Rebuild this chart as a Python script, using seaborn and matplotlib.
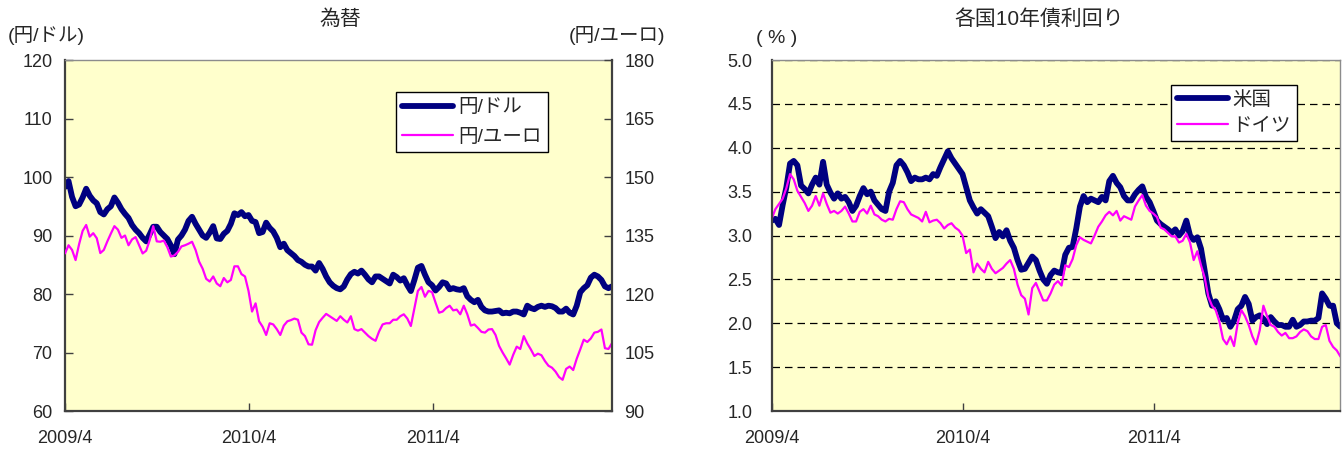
import matplotlib
matplotlib.use("Agg")
import matplotlib.pyplot as plt
import matplotlib.ticker as mticker
import numpy as np
import pandas as pd
import seaborn as sns

# Weekly observations, April 2009 - March 2012
dates = pd.date_range("2009-04-01", periods=156, freq="7D")

# 円/ドル (left axis)
usd_jpy = [
    98.3, 99.3, 96.6, 95.0, 95.3, 96.5, 98.0, 96.8, 96.0, 95.5,
    94.0, 93.6, 94.5, 95.0, 96.5, 95.6, 94.5, 93.7, 93.0, 91.8,
    91.0, 90.4, 89.6, 89.0, 90.2, 91.5, 91.5, 90.6, 90.0, 89.4,
    88.3, 86.8, 89.3, 90.0, 91.0, 92.5, 93.2, 92.0, 91.0, 90.0,
    89.6, 90.5, 91.6, 89.5, 89.4, 90.3, 90.8, 92.0, 93.8, 93.5,
    94.0, 93.3, 93.5, 92.5, 92.3, 90.4, 90.6, 92.2, 91.3, 90.7,
    89.6, 88.0, 88.6, 87.5, 87.0, 86.5, 85.8, 85.5, 85.0, 84.7,
    84.7, 84.0, 85.3, 84.3, 83.0, 82.0, 81.4, 81.0, 80.8, 81.3,
    82.5, 83.4, 83.8, 83.5, 84.0, 83.3, 82.5, 82.0, 83.0, 83.0,
    82.6, 82.2, 81.8, 83.3, 82.9, 82.3, 82.7, 81.5, 80.5, 82.4,
    84.5, 84.8, 83.3, 82.0, 81.5, 80.6, 81.2, 82.0, 81.8, 80.8,
    81.0, 80.8, 80.7, 81.0, 79.6, 79.0, 78.6, 79.0, 77.8, 77.2,
    77.0, 77.0, 77.1, 77.2, 76.7, 76.8, 76.7, 77.0, 77.0, 76.8,
    76.5, 78.0, 77.6, 77.4, 77.8, 78.0, 77.8, 78.0, 77.9, 77.6,
    77.0, 77.0, 77.5, 76.8, 76.5, 78.0, 80.3, 81.0, 81.5, 82.8,
    83.3, 83.0, 82.4, 81.3, 81.0, 81.3,
]

# 円/ユーロ (right axis)
eur_jpy = [
    130.4, 132.5, 131.3, 128.7, 132.8, 136.2, 137.7, 134.7, 135.6, 134.3,
    130.5, 131.3, 133.5, 135.5, 137.4, 136.5, 134.4, 135.0, 132.5, 134.0,
    134.6, 132.5, 130.4, 131.1, 133.8, 137.4, 133.5, 133.4, 133.7, 132.0,
    129.6, 129.9, 130.8, 132.2, 132.5, 132.9, 133.4, 131.3, 128.3, 126.5,
    123.9, 123.2, 124.5, 122.7, 122.0, 124.1, 123.0, 123.6, 127.1, 127.1,
    125.1, 124.5, 120.8, 115.5, 117.6, 113.0, 111.6, 109.5, 112.5, 112.2,
    111.0, 109.5, 111.9, 113.0, 113.3, 113.7, 113.4, 110.1, 109.2, 107.1,
    107.0, 110.7, 112.8, 113.9, 114.9, 114.3, 113.7, 113.1, 114.3, 113.4,
    112.7, 114.3, 111.0, 110.6, 111.0, 110.1, 109.2, 108.5, 108.0, 110.4,
    112.2, 112.5, 112.5, 113.4, 113.4, 114.3, 114.8, 113.7, 111.8, 116.3,
    120.8, 121.8, 119.3, 120.8, 120.5, 117.8, 115.2, 115.5, 116.4, 117.0,
    115.8, 116.0, 114.8, 117.0, 114.8, 111.9, 112.2, 111.3, 110.3, 110.1,
    110.9, 111.0, 109.5, 106.7, 105.0, 103.5, 101.9, 104.4, 106.5, 105.9,
    109.2, 107.3, 105.8, 104.1, 104.7, 104.3, 102.8, 101.6, 101.1, 100.1,
    98.7, 98.0, 100.8, 101.4, 100.5, 103.4, 105.8, 108.3, 107.7, 108.6,
    110.1, 110.3, 110.9, 106.1, 105.9, 107.4,
]

# 米国 10年債利回り (%)
us_10y = [
    3.17, 3.19, 3.12, 3.35, 3.55, 3.82, 3.85, 3.80, 3.57, 3.53,
    3.48, 3.58, 3.66, 3.58, 3.84, 3.58, 3.49, 3.42, 3.48, 3.42,
    3.44, 3.38, 3.28, 3.34, 3.45, 3.54, 3.47, 3.50, 3.40, 3.35,
    3.30, 3.28, 3.50, 3.60, 3.80, 3.85, 3.80, 3.72, 3.62, 3.66,
    3.64, 3.64, 3.66, 3.64, 3.70, 3.68, 3.78, 3.87, 3.96, 3.88,
    3.82, 3.76, 3.70, 3.55, 3.40, 3.32, 3.25, 3.30, 3.26, 3.22,
    3.10, 2.97, 3.04, 2.99, 3.06, 2.94, 2.86, 2.72, 2.61, 2.62,
    2.69, 2.76, 2.72, 2.60, 2.50, 2.45, 2.55, 2.60, 2.58, 2.57,
    2.78, 2.86, 2.87, 3.08, 3.33, 3.45, 3.38, 3.42, 3.40, 3.38,
    3.44, 3.40, 3.62, 3.68, 3.60, 3.55, 3.45, 3.40, 3.40, 3.47,
    3.52, 3.56, 3.44, 3.38, 3.28, 3.17, 3.13, 3.10, 3.07, 3.03,
    3.07, 3.00, 3.05, 3.17, 3.00, 2.95, 2.98, 2.85, 2.60, 2.34,
    2.20, 2.25, 2.16, 2.04, 2.06, 1.96, 2.03, 2.16, 2.20, 2.30,
    2.22, 2.03, 2.07, 2.09, 2.05, 1.99, 2.07, 2.02, 1.98, 1.98,
    1.96, 1.96, 2.04, 1.96, 1.98, 2.02, 2.02, 2.03, 2.03, 2.06,
    2.34, 2.28, 2.20, 2.20, 2.00, 1.96,
]

# ドイツ 10年債利回り (%)
de_10y = [
    3.19, 3.30, 3.36, 3.42, 3.54, 3.70, 3.64, 3.51, 3.44, 3.37,
    3.28, 3.34, 3.45, 3.34, 3.48, 3.36, 3.26, 3.28, 3.25, 3.28,
    3.33, 3.25, 3.16, 3.16, 3.27, 3.30, 3.25, 3.34, 3.24, 3.22,
    3.18, 3.16, 3.19, 3.18, 3.30, 3.39, 3.38, 3.30, 3.24, 3.22,
    3.20, 3.16, 3.27, 3.15, 3.17, 3.18, 3.14, 3.08, 3.12, 3.14,
    3.09, 3.06, 3.00, 2.80, 2.84, 2.58, 2.68, 2.62, 2.58, 2.70,
    2.62, 2.57, 2.60, 2.63, 2.68, 2.72, 2.62, 2.44, 2.32, 2.28,
    2.10, 2.40, 2.46, 2.36, 2.26, 2.26, 2.34, 2.44, 2.48, 2.43,
    2.66, 2.64, 2.73, 2.89, 2.98, 2.95, 2.93, 2.91, 3.00, 3.10,
    3.16, 3.23, 3.27, 3.23, 3.28, 3.17, 3.22, 3.20, 3.18, 3.33,
    3.40, 3.46, 3.34, 3.28, 3.25, 3.21, 3.09, 3.07, 3.03, 2.99,
    2.99, 2.92, 2.94, 3.02, 2.92, 2.72, 2.82, 2.66, 2.52, 2.30,
    2.20, 2.15, 2.02, 1.82, 1.76, 1.85, 1.74, 2.00, 2.15, 2.08,
    1.98, 1.85, 1.76, 1.92, 2.20, 2.08, 1.98, 1.96, 1.90, 1.86,
    1.89, 1.83, 1.83, 1.85, 1.90, 1.93, 1.91, 1.85, 1.82, 1.82,
    1.96, 1.98, 1.80, 1.73, 1.69, 1.62,
]

tick_dates = ["2009-04-01", "2010-04-01", "2011-04-01"]
tick_labels = ["2009/4", "2010/4", "2011/4"]

sns.set_theme(style="white")
plt.rcParams["font.family"] = ["Liberation Sans", "Noto Sans CJK JP"]

NAVY = "#000080"
MAGENTA = "#FF00FF"
PANEL = "#FFFFCC"
DARK = "#404040"
GREY = "#8C8C8C"

fx = pd.DataFrame({"date": dates, "usd": usd_jpy, "eur": eur_jpy})
bonds = pd.DataFrame({"date": dates, "us": us_10y, "de": de_10y})

fig = plt.figure(figsize=(13.43, 4.55), dpi=100)
ax1 = fig.add_axes([0.0484, 0.0967, 0.4073, 0.7714])
ax3 = fig.add_axes([0.5746, 0.0967, 0.4235, 0.7714])

# ---- 為替 panel ----
ax1.set_facecolor(PANEL)
sns.lineplot(data=fx, x="date", y="usd", ax=ax1, color=NAVY, lw=4.2,
             label="円/ドル", legend=False)
ax2 = ax1.twinx()
sns.lineplot(data=fx, x="date", y="eur", ax=ax2, color=MAGENTA, lw=1.6,
             label="円/ユーロ", legend=False)

ax1.set_ylim(60, 120)
ax1.set_yticks(np.arange(60, 121, 10))
ax2.set_ylim(90, 180)
ax2.set_yticks(np.arange(90, 181, 15))

# ---- 各国10年債利回り panel ----
ax3.set_facecolor(PANEL)
ax3.set_axisbelow(True)
ax3.yaxis.grid(True, color="black", linestyle=(0, (6, 4)), lw=0.9)
sns.lineplot(data=bonds, x="date", y="us", ax=ax3, color=NAVY, lw=4.2,
             label="米国", legend=False)
sns.lineplot(data=bonds, x="date", y="de", ax=ax3, color=MAGENTA, lw=1.6,
             label="ドイツ", legend=False)
ax3.set_ylim(1.0, 5.0)
ax3.set_yticks(np.arange(1.0, 5.01, 0.5))
ax3.yaxis.set_major_formatter(mticker.FormatStrFormatter("%.1f"))

for ax in (ax1, ax2, ax3):
    ax.set_xlim(dates[0], dates[-1])
    ax.set_xlabel("")
    ax.set_ylabel("")

for ax in (ax1, ax3):
    ax.set_xticks(pd.to_datetime(tick_dates))
    ax.set_xticklabels(tick_labels)
    ax.tick_params(axis="x", direction="in", length=6, width=1, color=DARK,
                   labelsize=13, pad=14, bottom=True)
    ax.spines["left"].set_color(DARK)
    ax.spines["bottom"].set_color(DARK)
    ax.spines["left"].set_linewidth(1.6)
    ax.spines["bottom"].set_linewidth(1.6)
    ax.spines["top"].set_color(GREY)
    ax.spines["top"].set_linewidth(1.0)

ax1.tick_params(axis="y", direction="in", length=6, width=1, color=DARK,
                labelsize=13, pad=9, left=True)
ax2.tick_params(axis="y", direction="in", length=6, width=1, color=DARK,
                labelsize=13, pad=9, right=True)
ax3.tick_params(axis="y", direction="in", length=0, labelsize=13, pad=14,
                left=True)
ax1.spines["right"].set_visible(False)
for side in ("left", "top", "bottom"):
    ax2.spines[side].set_visible(False)
ax2.spines["right"].set_color(DARK)
ax2.spines["right"].set_linewidth(1.6)
ax3.spines["right"].set_color(GREY)
ax3.spines["right"].set_linewidth(1.0)

# Legends
h1, l1 = ax1.get_legend_handles_labels()
h2, l2 = ax2.get_legend_handles_labels()
leg = ax2.legend(h1 + h2, l1 + l2, loc="upper right",
                 bbox_to_anchor=(0.883, 0.909), fontsize=14, frameon=True,
                 fancybox=False, framealpha=1, edgecolor="black",
                 borderpad=0.35, labelspacing=0.6, handlelength=2.6,
                 handletextpad=0.25, borderaxespad=0)
leg.get_frame().set_linewidth(1.0)

h3, l3 = ax3.get_legend_handles_labels()
leg3 = ax3.legend(h3, l3, loc="upper right", bbox_to_anchor=(0.9235, 0.929),
                  fontsize=14, frameon=True, fancybox=False, framealpha=1,
                  edgecolor="black", borderpad=0.3, labelspacing=0.45,
                  handlelength=2.6, handletextpad=0.25, borderaxespad=0)
leg3.get_frame().set_linewidth(1.0)

# Titles and unit labels
fig.text(0.2532, 0.958, "為替", ha="center", va="center", fontsize=15)
fig.text(0.774, 0.958, "各国10年債利回り", ha="center", va="center", fontsize=15)
fig.text(0.006, 0.922, "(円/ドル)", ha="left", va="center", fontsize=14)
fig.text(0.4955, 0.922, "(円/ユーロ)", ha="right", va="center", fontsize=14)
fig.text(0.5786, 0.916, "( % )", ha="center", va="center", fontsize=14)

fig.savefig("out.png", dpi=100, facecolor="white")
